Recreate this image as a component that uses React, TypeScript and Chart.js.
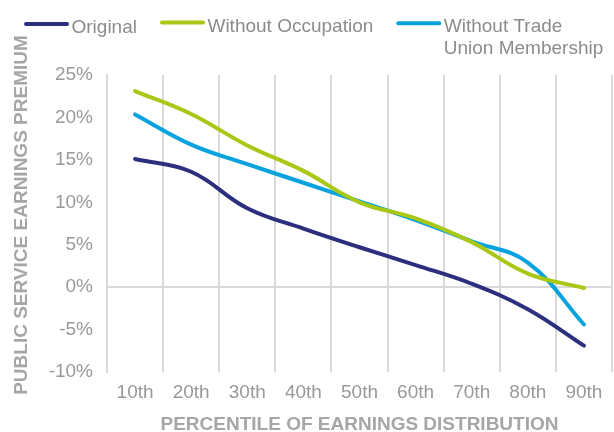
import React, { useEffect, useRef } from "react";
import { Chart, registerables } from "chart.js";

Chart.register(...registerables);

const FONT = "'Liberation Sans', Arial, Helvetica, sans-serif";

const categories = ["10th", "20th", "30th", "40th", "50th", "60th", "70th", "80th", "90th"];
const original = [15.1, 13.6, 9.3, 6.9, 4.7, 2.6, 0.4, -2.6, -6.9];
const withoutOccupation = [23.1, 20.4, 16.7, 13.7, 10.0, 8.1, 5.3, 1.6, -0.1];
const withoutTradeUnion = [20.35, 16.8, 14.5, 12.3, 10.1, 7.9, 5.4, 2.9, -4.4];

const seriesLabels = ["Original", "Without Occupation", "Without Trade Union Membership"];
const seriesColors = ["#2b2f7e", "#a9c815", "#08a2df"];

const yMin = -10;
const yMax = 25;
const yStep = 5;

const yTitle = "PUBLIC SERVICE EARNINGS PREMIUM";
const xTitle = "PERCENTILE OF EARNINGS DISTRIBUTION";

const LEGEND_TEXT = "#8c8c8c";
const TICK_TEXT = "#999999";
const TITLE_TEXT = "#a6a6a6";
const GRID = "#d9d9d9";

function wrapText(ctx: CanvasRenderingContext2D, text: string, maxW: number): string[] {
  const words = text.split(" ");
  const lines: string[] = [];
  let cur = "";
  for (const w of words) {
    const test = cur ? cur + " " + w : w;
    if (cur && ctx.measureText(test).width > maxW) {
      lines.push(cur);
      cur = w;
    } else {
      cur = test;
    }
  }
  if (cur) lines.push(cur);
  return lines;
}

const legendPlugin = {
  id: "customLegend",
  afterDraw(chart: any) {
    const ctx: CanvasRenderingContext2D = chart.ctx;
    ctx.save();
    ctx.font = `19px ${FONT}`;
    ctx.textBaseline = "alphabetic";
    ctx.textAlign = "left";
    let x = 24;
    const swatchW = 45;
    const baselines = [33, 31.5, 31.5];
    const swatchYs = [24, 22.5, 23.3];
    chart.data.datasets.forEach((ds: any, i: number) => {
      ctx.strokeStyle = ds.borderColor;
      ctx.lineWidth = 4;
      ctx.lineCap = "round";
      ctx.beginPath();
      ctx.moveTo(x + 2, swatchYs[i]);
      ctx.lineTo(x + swatchW - 2, swatchYs[i]);
      ctx.stroke();
      const tx = x + swatchW + 2.5;
      const maxW = chart.width - tx - 4;
      const lines = wrapText(ctx, ds.label, maxW);
      ctx.fillStyle = LEGEND_TEXT;
      lines.forEach((l, k) => ctx.fillText(l, tx, baselines[i] + k * 22.7));
      const w = Math.max(...lines.map((l) => ctx.measureText(l).width));
      x = tx + w + 23;
    });
    ctx.restore();
  },
};

const yTitlePlugin = {
  id: "yTitle",
  afterDraw(chart: any) {
    const ctx: CanvasRenderingContext2D = chart.ctx;
    const area = chart.chartArea;
    ctx.save();
    ctx.font = `bold 19px ${FONT}`;
    ctx.fillStyle = TITLE_TEXT;
    ctx.textAlign = "center";
    ctx.textBaseline = "middle";
    ctx.translate(21.5, (area.top + area.bottom) / 2 - 8.5);
    ctx.rotate(-Math.PI / 2);
    ctx.fillText(yTitle, 0, 0);
    ctx.restore();
  },
};

export default function App() {
  const ref = useRef<HTMLCanvasElement | null>(null);

  useEffect(() => {
    if (!ref.current) return;
    const data = [original, withoutOccupation, withoutTradeUnion];
    const chart = new Chart(ref.current, {
      type: "line",
      data: {
        labels: categories,
        datasets: data.map((d, i) => ({
          label: seriesLabels[i],
          data: d,
          borderColor: seriesColors[i],
          backgroundColor: seriesColors[i],
          borderWidth: 4,
          pointRadius: 0,
          tension: 0.4,
          borderCapStyle: "round" as const,
          fill: false,
        })),
      },
      options: {
        responsive: false,
        animation: false,
        devicePixelRatio: 1,
        layout: { padding: { top: 75, left: 0, right: 2, bottom: 0 } },
        plugins: {
          legend: { display: false },
          tooltip: { enabled: false },
        },
        scales: {
          x: {
            offset: true,
            grid: {
              offset: true,
              color: GRID,
              lineWidth: 2,
              drawTicks: false,
            },
            border: { display: false },
            ticks: {
              color: TICK_TEXT,
              font: { family: FONT, size: 19 },
              padding: 9,
              maxRotation: 0,
              autoSkip: false,
            },
            title: {
              display: true,
              text: xTitle,
              color: TITLE_TEXT,
              font: { family: FONT, size: 19, weight: "bold", lineHeight: 0.8 },
              padding: { top: 0, bottom: 0 },
            },
            afterFit(scale: any) {
              scale.height = 60;
            },
          },
          y: {
            min: yMin,
            max: yMax,
            grid: {
              color: (c: any) => (c.tick && c.tick.value === 0 ? GRID : "rgba(0,0,0,0)"),
              lineWidth: 2,
              drawTicks: false,
            },
            border: { display: true, color: GRID, width: 2 },
            ticks: {
              stepSize: yStep,
              color: TICK_TEXT,
              font: { family: FONT, size: 19 },
              padding: 14,
              callback: (v: any) => `${v}%`,
            },
            title: { display: false },
            afterFit(scale: any) {
              scale.width = 107;
            },
          },
        },
      },
      plugins: [legendPlugin, yTitlePlugin],
    });
    return () => chart.destroy();
  }, []);

  return (
    <div style={{ position: "absolute", left: 0, top: 0, width: 614, height: 432, background: "#ffffff" }}>
      <canvas ref={ref} width={614} height={432} style={{ display: "block", width: 614, height: 432 }} />
    </div>
  );
}
